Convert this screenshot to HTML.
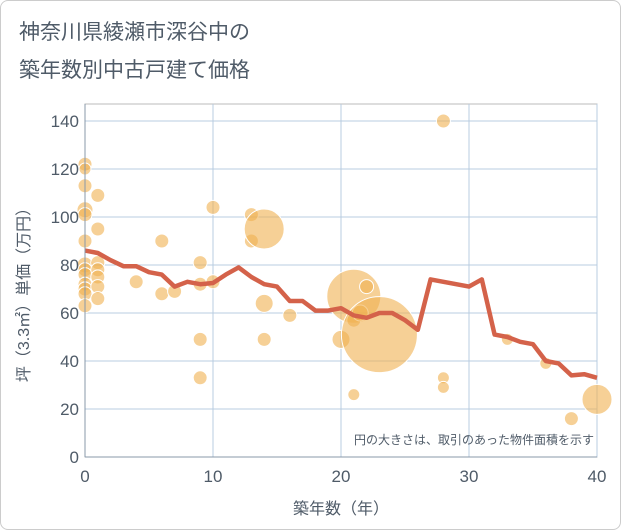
<!DOCTYPE html>
<html><head><meta charset="utf-8">
<style>
body{margin:0;background:#fff;}
#wrap{width:619px;height:528px;border:1px solid #ccc;border-radius:8px;position:relative;overflow:hidden;font-family:"Liberation Sans","Noto Sans CJK JP",sans-serif;}
</style></head>
<body>
<div id="wrap">
<svg id="chart" width="621" height="530">
<text x="18" y="38" font-size="21" fill="#4f5b68" font-family="Liberation Sans, Noto Sans CJK JP, sans-serif">神奈川県綾瀬市深谷中の</text>
<text x="18" y="76" font-size="21" fill="#4f5b68" font-family="Liberation Sans, Noto Sans CJK JP, sans-serif">築年数別中古戸建て価格</text>
<g id="grid"></g><g id="bubbles"></g><g id="line"></g><g id="axes"></g>
<text x="593" y="443" font-size="12" fill="#4f5b68" text-anchor="end" font-family="Liberation Sans, Noto Sans CJK JP, sans-serif">円の大きさは、取引のあった物件面積を示す</text>
<text x="340" y="513" font-size="16" fill="#4f5b68" text-anchor="middle" font-family="Liberation Sans, Noto Sans CJK JP, sans-serif">築年数（年）</text>
<text transform="translate(28,290) rotate(-90)" font-size="16" fill="#4f5b68" text-anchor="middle" font-family="Liberation Sans, Noto Sans CJK JP, sans-serif">坪（3.3㎡）単価（万円）</text>
</svg>
</div>
<script>
const xTicks=[0,10,20,30,40];
const yTicks=[0,20,40,60,80,100,120,140];
const lineX=[0,1,2,3,4,5,6,7,8,9,10,11,12,13,14,15,16,17,18,19,20,21,22,23,24,25,26,27,28,29,30,31,32,33,34,35,36,37,38,39,40];
const lineY=[86,85,82,79.5,79.5,77,76,71,73,72,72.5,76,79,75,72,71,65,65,61,61,62,59,58,60,60,57,53,74,73,72,71,74,51,50,48,47,40,39,34,34.5,33];
const bubX=[0,0,0,0,0,0,0,0,0,0,0,0,0,1,1,1,1,1,1,1,4,6,6,7,9,9,9,9,10,10,13,13,14,14,14,16,20,21,21,21,21.5,22,23,28,28,28,33,36,38,40];
const bubY=[122,120,113,103,101,90,80,78,76,72,70,68,63,109,95,81,78,75,71,66,73,90,68,69,81,49,33,72,104,73,101,90,95,64,49,59,49,67,57,26,60,71,51,140,33,29,49,39,16,24];
const bubR=[7,6,7,8,7,7,8,7,7,7,7,7,7,7,7,7,7,7,7,7,7,7,7,7,7,7,7,7,7,7,7,7,20,9,7,7,9,27,7,6,8,7,38,7,6,6,6,6,7,15];
const X=v=>84+v*12.8, Y=v=>456-v*2.4;
const NS="http://www.w3.org/2000/svg";
function mk(t,a,p){const e=document.createElementNS(NS,t);for(const k in a)e.setAttribute(k,a[k]);p.appendChild(e);return e;}
const grid=document.getElementById('grid'),axes=document.getElementById('axes');
mk('rect',{x:84,y:103,width:512,height:353,fill:'none',stroke:'#bbb'},grid);
xTicks.forEach(t=>{const l=mk('line',{x1:X(t),x2:X(t),y1:103,y2:456,stroke:'#b8cce0'},grid);


const tx=mk('text',{x:X(t),y:481,'font-size':17,fill:'#4f5b68','text-anchor':'middle','font-family':'Liberation Sans, sans-serif'},axes);tx.textContent=t;

});
yTicks.forEach(t=>{const l=mk('line',{x1:84,x2:596,y1:Y(t),y2:Y(t),stroke:'#b8cce0'},grid);


const tx=mk('text',{x:78,y:Y(t)+6,'font-size':17,fill:'#4f5b68','text-anchor':'end','font-family':'Liberation Sans, sans-serif'},axes);tx.textContent=t;

});
mk('line',{x1:84,x2:84,y1:103,y2:456,stroke:'#8899aa'},axes);
mk('line',{x1:84,x2:596,y1:456,y2:456,stroke:'#8899aa'},axes);
const bg=document.getElementById('bubbles');
bubX.forEach((v,i)=>{const c=mk('circle',{cx:X(v),cy:Y(bubY[i]),r:bubR[i],fill:'#f0b050','fill-opacity':0.6,stroke:'#fff','stroke-width':1},bg);

});
const p=mk('polyline',{points:lineX.map((v,i)=>X(v)+','+Y(lineY[i])).join(' '),fill:'none',stroke:'#d4624a','stroke-width':4.5,'stroke-linejoin':'round'},document.getElementById('line'));


</script>
</body></html>
